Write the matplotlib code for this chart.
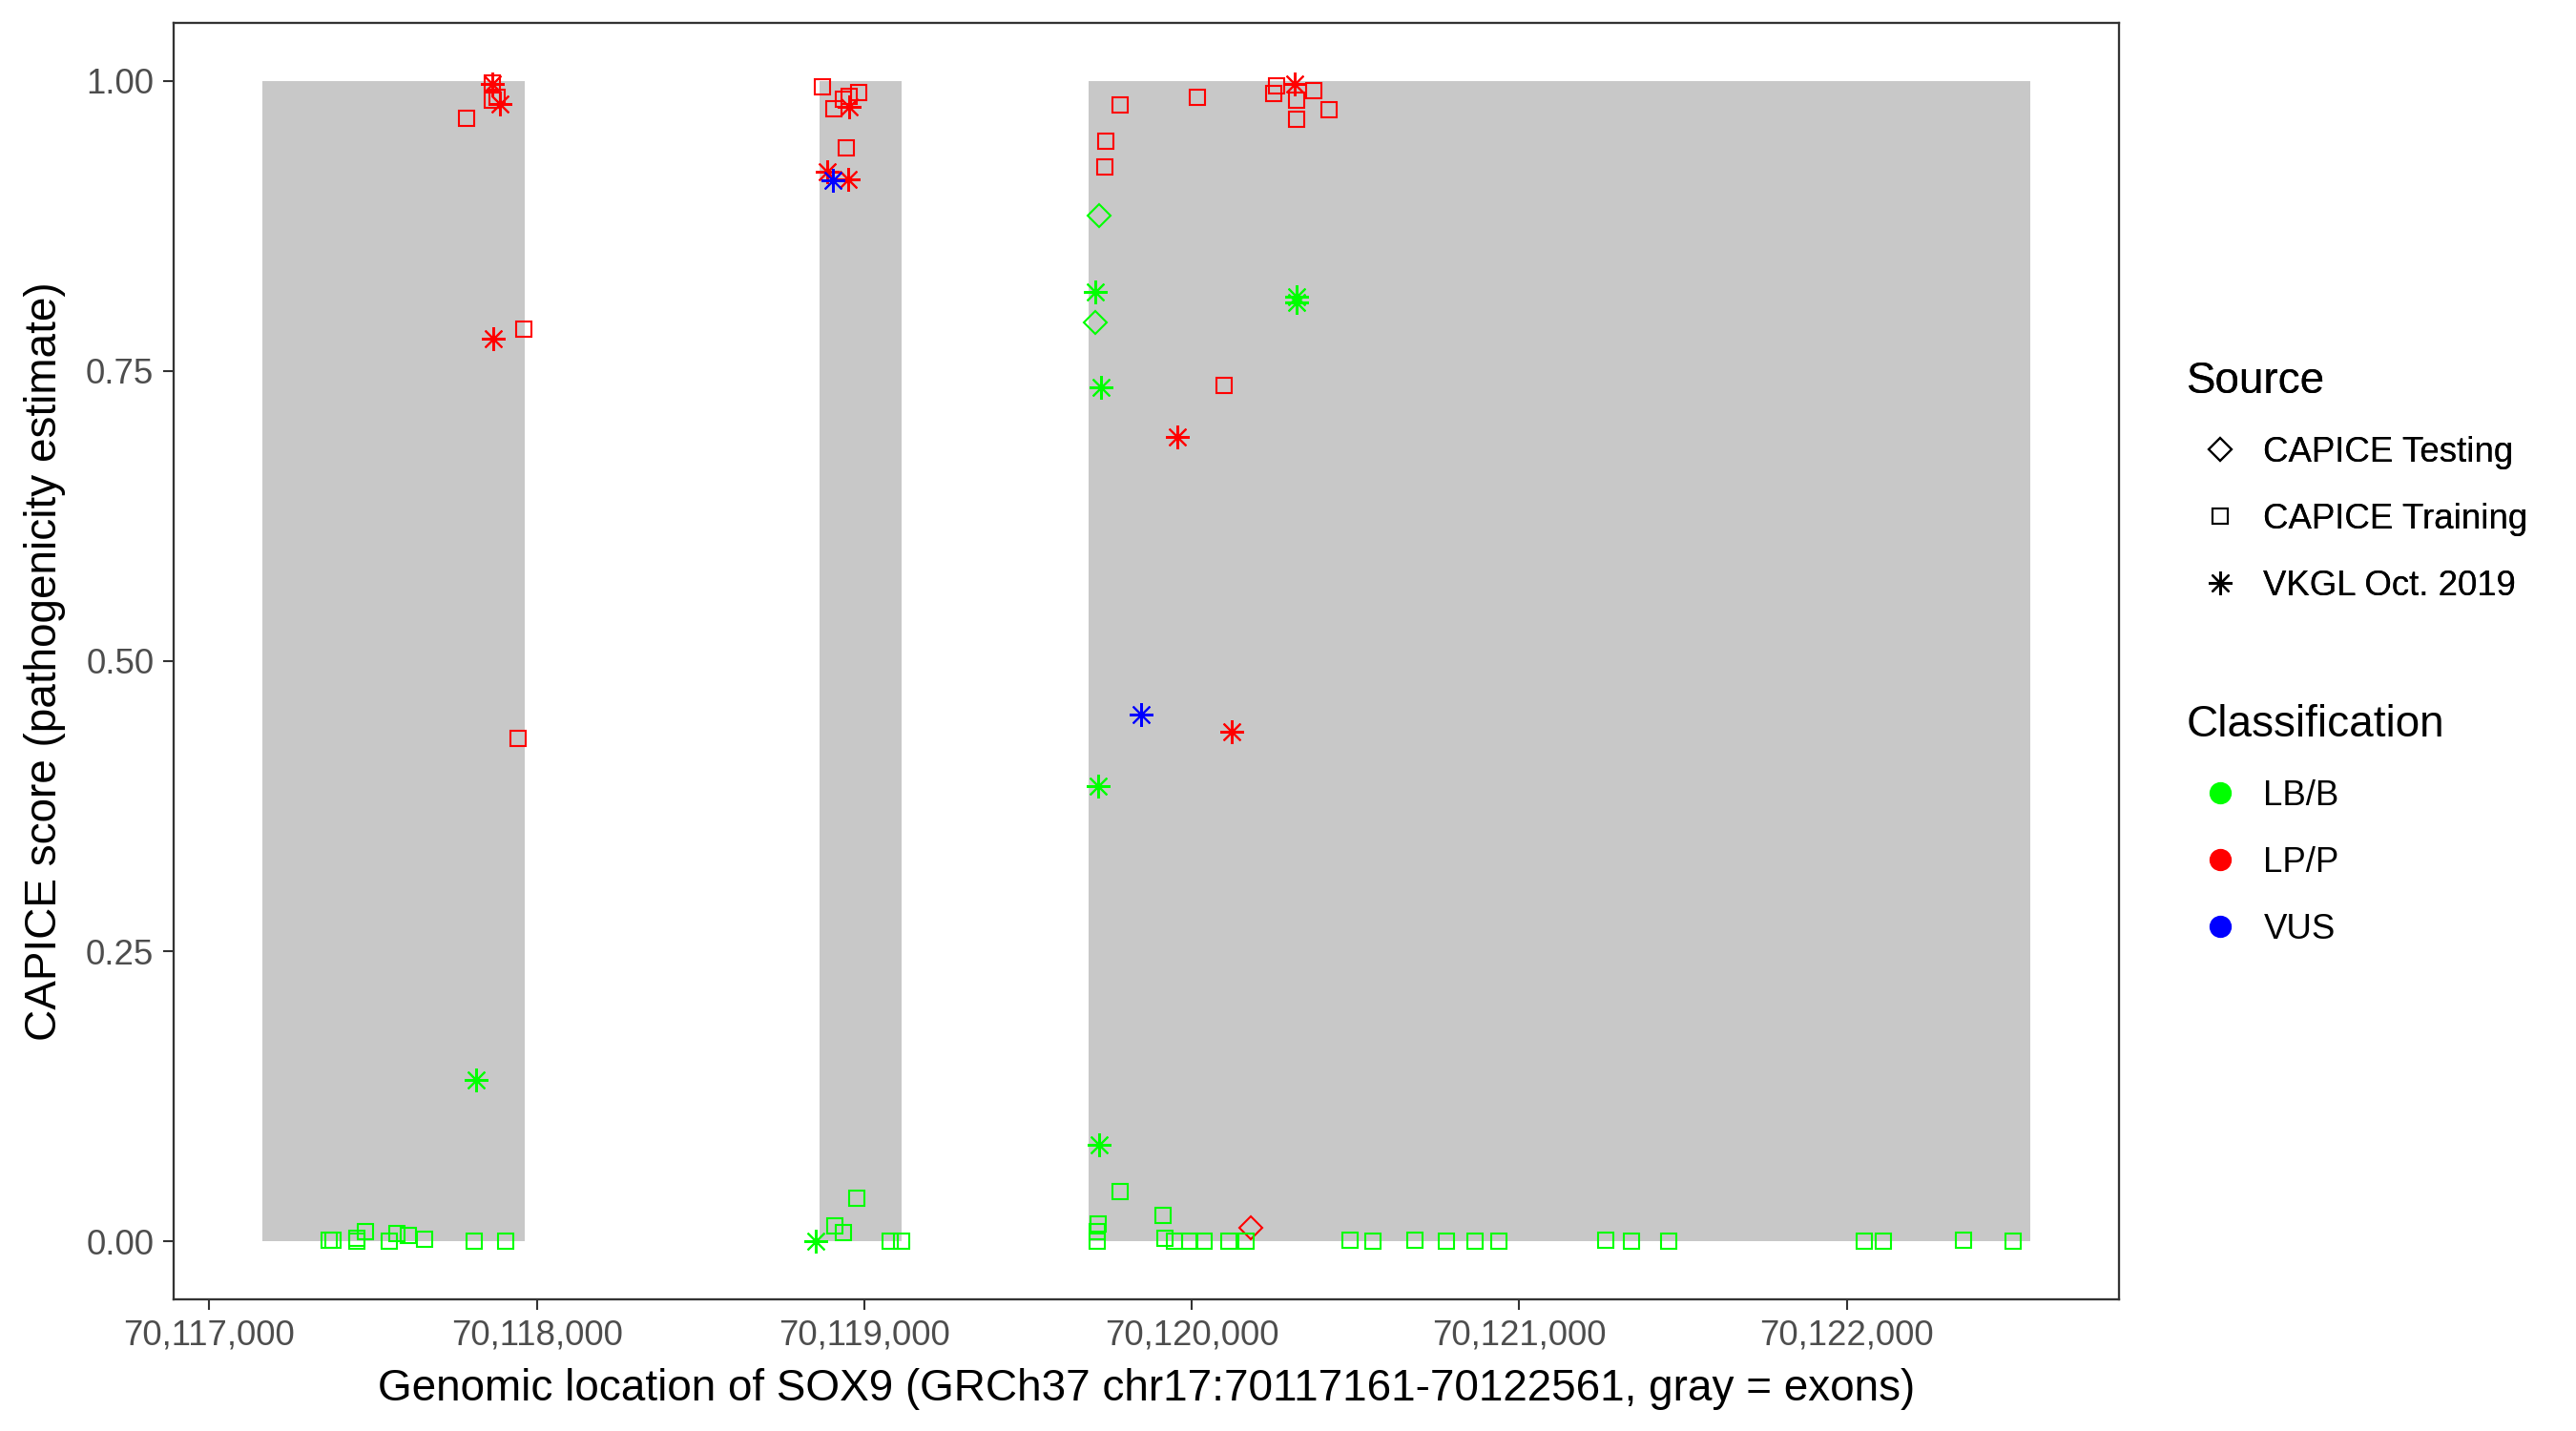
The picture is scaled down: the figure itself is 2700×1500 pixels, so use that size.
import matplotlib
matplotlib.use("Agg")
import matplotlib.pyplot as plt
from matplotlib.lines import Line2D
from matplotlib.ticker import FuncFormatter

plt.rcParams['font.family'] = ['Liberation Sans', 'DejaVu Sans']

# SOX9 exons (GRCh37 chr17)
exon_start = [70117161, 70118863, 70119686]
exon_end = [70117963, 70119115, 70122561]

# variants: genomic position, CAPICE score, source, classification
pos = [
    # exon 1
    70117863, 70117863, 70117863, 70117880, 70117888, 70117784, 70117868, 70117960, 70117943,
    70117815,
    70117365, 70117378, 70117449, 70117451, 70117476, 70117549, 70117573, 70117608, 70117658,
    70117808, 70117904,
    # exon 2
    70118871, 70118907, 70118936, 70118955, 70118982, 70118953, 70118944, 70118886, 70118951,
    70118904,
    70118853, 70118977, 70118909, 70118935, 70119079, 70119115,
    # exon 3
    70119780, 70120018, 70119737, 70119735, 70120259, 70120249, 70120315, 70120319, 70120319,
    70120371, 70120418, 70120099, 70119957, 70120123, 70120179,
    70119844,
    70119718, 70119706, 70119706, 70120321, 70120321, 70119724, 70119715, 70119717,
    70119782, 70119912, 70119713, 70119710, 70119710, 70119919, 70119946, 70119993, 70120038,
    70120114, 70120166, 70120482, 70120554, 70120681, 70120778, 70120865, 70120937, 70121265,
    70121341, 70121457, 70122052, 70122111, 70122355, 70122509,
]
score = [
    0.998, 0.997, 0.983, 0.986, 0.980, 0.968, 0.778, 0.786, 0.433,
    0.139,
    0.001, 0.001, 0.003, 0.000, 0.008, 0.0004, 0.007, 0.005, 0.002,
    0.0005, 0.0005,
    0.995, 0.976, 0.984, 0.987, 0.990, 0.978, 0.942, 0.922, 0.915,
    0.914,
    0.000, 0.0375, 0.013, 0.0075, 0.000, 0.000,
    0.979, 0.986, 0.948, 0.926, 0.996, 0.989, 0.997, 0.983, 0.967,
    0.992, 0.975, 0.738, 0.693, 0.439, 0.012,
    0.454,
    0.884, 0.818, 0.792, 0.814, 0.809, 0.736, 0.392, 0.083,
    0.043, 0.0225, 0.015, 0.008, 0.000, 0.003, 0.000, 0.000, 0.000,
    0.000, 0.000, 0.001, 0.000, 0.001, 0.000, 0.000, 0.000, 0.001,
    0.000, 0.000, 0.000, 0.000, 0.001, 0.000,
]
source = [
    'CAPICE Training', 'VKGL Oct. 2019', 'CAPICE Training', 'CAPICE Training', 'VKGL Oct. 2019',
    'CAPICE Training', 'VKGL Oct. 2019', 'CAPICE Training', 'CAPICE Training',
    'VKGL Oct. 2019',
] + ['CAPICE Training'] * 11 + [
    'CAPICE Training', 'CAPICE Training', 'CAPICE Training', 'CAPICE Training', 'CAPICE Training',
    'VKGL Oct. 2019', 'CAPICE Training', 'VKGL Oct. 2019', 'VKGL Oct. 2019',
    'VKGL Oct. 2019',
    'VKGL Oct. 2019', 'CAPICE Training', 'CAPICE Training', 'CAPICE Training', 'CAPICE Training',
    'CAPICE Training',
    'CAPICE Training', 'CAPICE Training', 'CAPICE Training', 'CAPICE Training', 'CAPICE Training',
    'CAPICE Training', 'VKGL Oct. 2019', 'CAPICE Training', 'CAPICE Training', 'CAPICE Training',
    'CAPICE Training', 'CAPICE Training', 'VKGL Oct. 2019', 'VKGL Oct. 2019', 'CAPICE Testing',
    'VKGL Oct. 2019',
    'CAPICE Testing', 'VKGL Oct. 2019', 'CAPICE Testing', 'VKGL Oct. 2019', 'VKGL Oct. 2019',
    'VKGL Oct. 2019', 'VKGL Oct. 2019', 'VKGL Oct. 2019',
] + ['CAPICE Training'] * 24
classification = (['LP/P'] * 9 + ['LB/B'] * 12
                  + ['LP/P'] * 9 + ['VUS'] + ['LB/B'] * 6
                  + ['LP/P'] * 15 + ['VUS'] + ['LB/B'] * 32)

class_colors = {'LB/B': '#00FF00', 'LP/P': '#FF0000', 'VUS': '#0000FF'}
source_markers = {'CAPICE Testing': 'D', 'CAPICE Training': 's', 'VKGL Oct. 2019': (8, 2, 0)}
marker_sizes = {'CAPICE Testing': 4.0, 'CAPICE Training': 3.9, 'VKGL Oct. 2019': 6.0}

fig = plt.figure(figsize=(9, 5), dpi=300)
ax = fig.add_axes([0.0674, 0.092, 0.7552, 0.892])

for s, e in zip(exon_start, exon_end):
    ax.fill_between([s, e], 0, 1, color='#C8C8C8', linewidth=0, zorder=1)

for x, y, src, cl in zip(pos, score, source, classification):
    ax.plot(x, y, linestyle='none', marker=source_markers[src], markersize=marker_sizes[src],
            markerfacecolor='none', markeredgecolor=class_colors[cl], markeredgewidth=0.5, zorder=3)

xmin, xmax = 70117161, 70122561
pad = 0.05 * (xmax - xmin)
ax.set_xlim(xmin - pad, xmax + pad)
ax.set_ylim(-0.05, 1.05)
ax.set_xticks([70117000, 70118000, 70119000, 70120000, 70121000, 70122000])
ax.set_yticks([0, 0.25, 0.5, 0.75, 1.0])
ax.xaxis.set_major_formatter(FuncFormatter(lambda v, p: f"{int(v):,}"))
ax.yaxis.set_major_formatter(FuncFormatter(lambda v, p: f"{v:.2f}"))
ax.tick_params(length=2.75, width=0.5, color='#333333', labelcolor='#4D4D4D', labelsize=8.8, pad=2.2)
for sp in ax.spines.values():
    sp.set_color('#333333')
    sp.set_linewidth(0.55)

ax.set_xlabel('Genomic location of SOX9 (GRCh37 chr17:70117161-70122561, gray = exons)', fontsize=11, labelpad=4)
ax.set_ylabel('CAPICE score (pathogenicity estimate)', fontsize=11, labelpad=5)

src_handles = [Line2D([], [], linestyle='none', marker=source_markers[k], markersize=marker_sizes[k],
                      markerfacecolor='none', markeredgecolor='black', markeredgewidth=0.5)
               for k in source_markers]
leg1 = fig.legend(src_handles, list(source_markers), title='Source', loc='upper left',
                  bbox_to_anchor=(0.842, 0.760), frameon=False, fontsize=8.8, title_fontsize=11,
                  alignment='left', handlelength=1.9, handletextpad=0.3, labelspacing=0.95, borderpad=0)

cls_handles = [Line2D([], [], linestyle='none', marker='o', markersize=4.6,
                      markerfacecolor=c, markeredgecolor=c) for c in class_colors.values()]
leg2 = fig.legend(cls_handles, list(class_colors), title='Classification', loc='upper left',
                  bbox_to_anchor=(0.842, 0.520), frameon=False, fontsize=8.8, title_fontsize=11,
                  alignment='left', handlelength=1.9, handletextpad=0.3, labelspacing=0.95, borderpad=0)
fig.add_artist(leg1)

fig.savefig('out.png', dpi=300)
